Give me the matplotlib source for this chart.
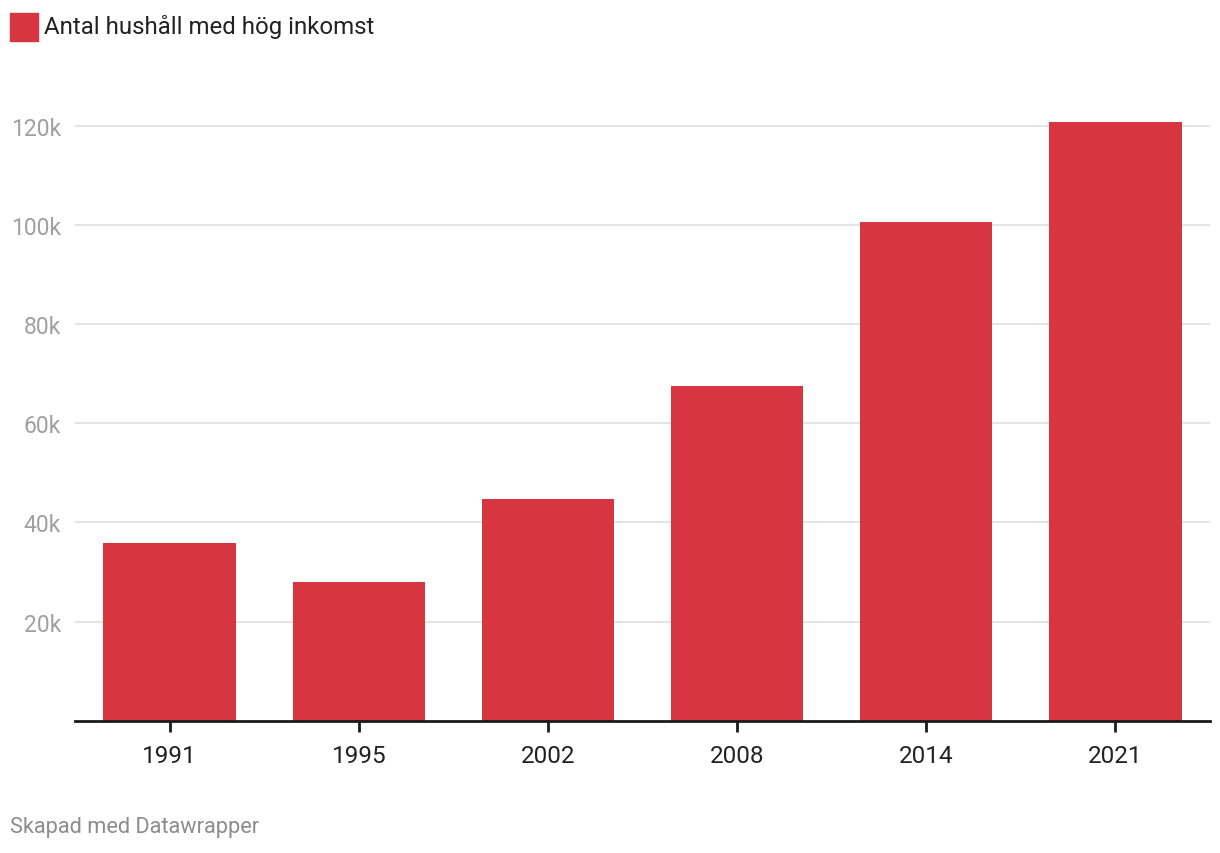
import numpy as np
import matplotlib.pyplot as plt
from matplotlib.patches import Rectangle
from matplotlib.ticker import FuncFormatter

plt.rcParams['font.family'] = ['Roboto', 'DejaVu Sans']

# data
years = ['1991', '1995', '2002', '2008', '2014', '2021']
hushall = [35900, 28000, 44800, 67600, 100600, 120800]
y_ticks = [20000, 40000, 60000, 80000, 100000, 120000]

red = '#d73641'

fig = plt.figure(figsize=(12.2, 8.54), dpi=100)
ax = fig.add_axes([0.0615, 0.1549, 0.9303, 0.7258])

x = np.arange(len(years))
ax.bar(x, hushall, width=0.70, color=red, zorder=3)

ax.set_xlim(-0.5, 5.5)
ax.set_ylim(0, 125000)
ax.set_yticks(y_ticks)
ax.yaxis.set_major_formatter(FuncFormatter(lambda v, p: f'{int(v/1000)}k'))
ax.grid(axis='y', color='#e2e2e2', linewidth=1.3, zorder=0)
ax.tick_params(axis='y', length=0, pad=10, labelsize=16.5, labelcolor='#a0a0a0')

ax.set_xticks(x)
ax.set_xticklabels(years)
ax.tick_params(axis='x', length=8, width=2, color='#1a1a1a', pad=9,
               labelsize=17.5, labelcolor='#222222')

for s in ['top', 'right', 'left']:
    ax.spines[s].set_visible(False)
ax.spines['bottom'].set_linewidth(2)
ax.spines['bottom'].set_color('#1a1a1a')
ax.spines['bottom'].set_zorder(4)

# legend
fig.patches.append(Rectangle((10/1220, 1-42/854), 28/1220, 28/854,
                             transform=fig.transFigure, color=red))
fig.text(44/1220, 1-27/854, 'Antal hushåll med hög inkomst', fontsize=17.3,
         color='#222222', va='center', ha='left')

fig.text(10/1220, 1-828/854, 'Skapad med Datawrapper', fontsize=15.7,
         color='#8c8c8c', va='center', ha='left')

fig.savefig('out.png', dpi=100)
